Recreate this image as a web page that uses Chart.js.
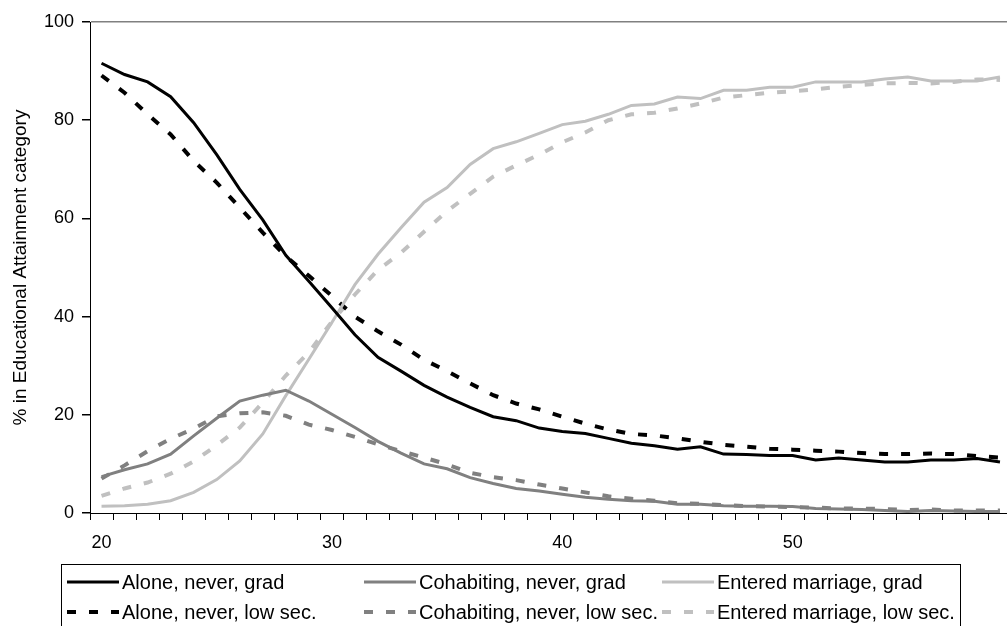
<!DOCTYPE html>
<html>
<head>
<meta charset="utf-8">
<script src="https://cdn.jsdelivr.net/npm/chart.js@4"></script>
<style>
    html, body { margin: 0; padding: 0; overflow: hidden; background: #fff; }
    #wrap { position: absolute; left: 0; top: 0; }
</style>
</head>
<body>
<div id="wrap"><canvas id="lifeChart" width="1020" height="640"></canvas></div>
<script>
// Ages on the category axis
const ages = [];
for (let a = 20; a <= 59; a++) ages.push(String(a));

// Series values (% in educational attainment category)
const aloneGrad = [91.6, 89.3, 87.8, 84.8, 79.5, 73.0, 65.9, 59.7, 52.5, 47.2,
    41.8, 36.3, 31.7, 28.9, 26.0, 23.6, 21.5, 19.6, 18.8, 17.3,
    16.6, 16.2, 15.2, 14.2, 13.7, 13.0, 13.5, 12.0, 11.9, 11.7,
    11.7, 10.8, 11.2, 10.8, 10.4, 10.4, 10.8, 10.8, 11.1, 10.4];
const cohabGrad = [7.4, 8.8, 10.0, 12.0, 15.7, 19.3, 22.8, 24.0, 25.0, 22.8,
    20.1, 17.4, 14.6, 12.2, 10.0, 9.0, 7.2, 6.0, 5.0, 4.5,
    3.8, 3.2, 2.8, 2.5, 2.4, 1.8, 1.8, 1.5, 1.4, 1.4,
    1.3, 0.9, 0.8, 0.7, 0.5, 0.3, 0.5, 0.4, 0.3, 0.3];
const marriedGrad = [1.4, 1.5, 1.8, 2.5, 4.2, 6.8, 10.6, 16.1, 23.9, 31.3,
    38.8, 46.5, 52.7, 58.1, 63.3, 66.3, 71.0, 74.2, 75.6, 77.3,
    79.1, 79.8, 81.2, 83.0, 83.3, 84.7, 84.4, 86.1, 86.1, 86.7,
    86.7, 87.8, 87.8, 87.8, 88.4, 88.8, 88.0, 88.0, 88.0, 88.8];
const aloneLow = [89.1, 85.6, 81.2, 77.1, 71.7, 67.3, 62.2, 57.1, 52.3, 48.3,
    44.2, 40.0, 37.0, 34.3, 31.2, 28.9, 26.4, 24.0, 22.3, 21.1,
    19.6, 18.2, 17.0, 16.1, 15.8, 15.2, 14.5, 13.9, 13.5, 13.1,
    12.9, 12.7, 12.5, 12.2, 12.0, 12.0, 12.1, 12.0, 11.6, 11.3];
const cohabLow = [7.0, 9.7, 12.6, 15.1, 17.2, 19.7, 20.3, 20.5, 19.8, 18.0,
    16.9, 15.5, 14.0, 12.6, 11.3, 9.9, 8.2, 7.3, 6.7, 5.8,
    5.0, 4.2, 3.4, 2.9, 2.5, 2.0, 1.9, 1.6, 1.4, 1.3,
    1.2, 1.1, 0.9, 0.9, 0.8, 0.6, 0.7, 0.5, 0.5, 0.5];
const marriedLow = [3.5, 5.0, 6.2, 8.0, 10.5, 13.8, 17.4, 22.5, 28.0, 32.7,
    39.0, 44.5, 49.5, 53.0, 57.3, 61.5, 65.0, 68.5, 70.8, 73.0,
    75.5, 77.5, 80.0, 81.2, 81.5, 82.4, 83.4, 84.6, 85.1, 85.6,
    85.9, 86.3, 86.8, 87.2, 87.5, 87.6, 87.5, 87.8, 88.3, 88.2];

const yTicks = [0, 20, 40, 60, 80, 100];
const FONT = '"Liberation Sans", Arial, sans-serif';

const dashed = [9, 13];
function series(label, data, color, dash) {
    return {
        label: label,
        data: data,
        borderColor: color,
        backgroundColor: color,
        borderWidth: dash ? 4 : 3,
        borderDash: dash || [],
        pointRadius: 0,
        tension: 0,
        fill: false
    };
}

// Legend in a box, 3 columns x 2 rows, drawn below the axis
const boxLegend = {
    id: 'boxLegend',
    afterDraw(chart) {
        const ctx = chart.ctx;
        const sets = chart.data.datasets;
        const cols = [67, 364, 662];
        const rows = [582, 612];
        ctx.save();
        ctx.strokeStyle = '#000';
        ctx.lineWidth = 1;
        ctx.strokeRect(61.5, 564.5, 899, 90);
        ctx.font = '20px ' + FONT;
        ctx.fillStyle = '#000';
        ctx.textBaseline = 'middle';
        sets.forEach((ds, i) => {
            const x = cols[i % 3];
            const y = rows[Math.floor(i / 3)];
            ctx.beginPath();
            ctx.strokeStyle = ds.borderColor;
            ctx.lineWidth = ds.borderWidth;
            ctx.setLineDash(ds.borderDash);
            ctx.moveTo(x, y);
            ctx.lineTo(x + 52, y);
            ctx.stroke();
            ctx.setLineDash([]);
            ctx.fillText(ds.label, x + 55, y + 1);
        });
        ctx.restore();
    }
};

const ctx = document.getElementById('lifeChart').getContext('2d');
new Chart(ctx, {
    type: 'line',
    data: {
        labels: ages,
        datasets: [
            series('Alone, never, grad', aloneGrad, '#000000'),
            series('Cohabiting, never, grad', cohabGrad, '#808080'),
            series('Entered marriage, grad', marriedGrad, '#c0c0c0'),
            series('Alone, never, low sec.', aloneLow, '#000000', dashed),
            series('Cohabiting, never, low sec.', cohabLow, '#808080', dashed),
            series('Entered marriage, low sec.', marriedLow, '#c0c0c0', dashed)
        ]
    },
    options: {
        responsive: false,
        animation: false,
        layout: { padding: { top: 22, right: 8.5, left: 0, bottom: 0 } },
        plugins: {
            legend: { display: false },
            tooltip: { enabled: false }
        },
        scales: {
            x: {
                type: 'category',
                offset: true,
                afterFit(scale) { scale.height = 127; },
                grid: {
                    offset: true,
                    drawOnChartArea: false,
                    tickLength: 7,
                    tickColor: '#000'
                },
                border: { color: '#000', width: 1 },
                ticks: {
                    autoSkip: false,
                    maxRotation: 0,
                    padding: 12,
                    color: '#000',
                    font: { family: FONT, size: 18 },
                    callback: function (val, i) {
                        const lab = this.getLabelForValue(val);
                        return Number(lab) % 10 === 0 ? lab : '';
                    }
                }
            },
            y: {
                min: 0,
                max: 100,
                afterFit(scale) { scale.width = 90; },
                afterBuildTicks(scale) {
                    scale.ticks = yTicks.map(v => ({ value: v }));
                },
                grid: {
                    color: c => (c.tick && c.tick.value === 100 ? '#808080' : 'rgba(0,0,0,0)'),
                    lineWidth: 1.5,
                    tickLength: 8,
                    tickColor: '#000'
                },
                border: { color: '#000', width: 1 },
                ticks: {
                    padding: 8,
                    color: '#000',
                    font: { family: FONT, size: 18 }
                },
                title: {
                    display: true,
                    text: '% in Educational Attainment category',
                    color: '#000',
                    font: { family: FONT, size: 19 },
                    padding: { top: 9, bottom: 0 }
                }
            }
        }
    },
    plugins: [boxLegend]
});
</script>
</body>
</html>
